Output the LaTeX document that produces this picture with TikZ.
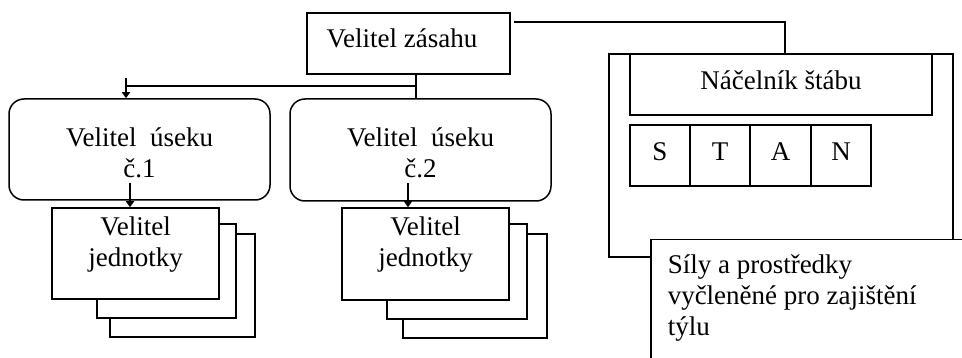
\documentclass[tikz,border=0pt]{standalone}
\usepackage{fontspec}
\setmainfont{Liberation Serif}
\usetikzlibrary{arrows.meta}
\begin{document}
\begin{tikzpicture}[x=1pt,y=-1pt,line width=1.5pt,
  box/.style={draw,fill=white,inner sep=0pt},
  txt/.style={inner sep=0pt,align=center,font=\fontsize{27}{31}\selectfont},
  tip/.style={-{Triangle[length=6pt,width=8pt]}}]
\useasboundingbox (0,0) rectangle (962,358);
\clip (0,0) rectangle (962,358);

% top
\node[box,minimum width=203pt,minimum height=61pt] (zasahu) at (408.5,43.5) {};
\node[txt] (zasahut) at (402,38) {Velitel zásahu};

% sectors
\node[box,rounded corners=15pt,minimum width=261pt,minimum height=101pt] (useku1) at (139.5,149.5) {};
\node[txt] (useku1t) at (139.5,153) {Velitel\ \ úseku\\č.1};
\node[box,rounded corners=15pt,minimum width=261pt,minimum height=102pt] (useku2) at (420.5,150) {};
\node[txt] (useku2t) at (420.5,153) {Velitel\ \ úseku\\č.2};

% units 1
\node[box,minimum width=145pt,minimum height=103pt] (j1c) at (182.5,285.5) {};
\node[box,minimum width=139pt,minimum height=94pt] (j1b) at (166.5,271) {};
\node[box,minimum width=167pt,minimum height=91pt] (j1a) at (135.5,253.5) {};
\node[txt] (j1t) at (135.5,245) {Velitel\\jednotky};

% units 2
\node[box,minimum width=144pt,minimum height=104pt] (j2c) at (475,286) {};
\node[box,minimum width=140pt,minimum height=95pt] (j2b) at (457,271.5) {};
\node[box,minimum width=167pt,minimum height=92pt] (j2a) at (425.5,254) {};
\node[txt] (j2t) at (425.5,245) {Velitel\\jednotky};

% staff
\node[box,minimum width=344pt,minimum height=203pt] (stab) at (781,155.5) {};
\node[box,minimum width=302pt,minimum height=61pt] (nacelnik) at (781,84.5) {};
\node[txt] (nacelnikt) at (781,80) {Náčelník štábu};
\foreach \x/\l in {660/S,720/T,780.5/A,841/N}
  \node[box,minimum width=60pt,minimum height=61pt] (c\l) at (\x,155.5) {};
\foreach \x/\l in {660/S,720/T,780.5/A,841/N}
  \node[txt] (t\l) at (\x,151.5) {\l};

% rear
\node[box,minimum width=360pt,minimum height=160pt,anchor=north west] (tyl) at (650,239) {};
\node[txt,align=left,anchor=west] (tylt) at (667,298) {Síly a prostředky\\vyčleněné pro zajištění\\týlu};

% links
\coordinate (zr) at (514,22);
\path[draw] (zr) -| ([xshift=4pt]stab.north);
\path[draw] ([xshift=7.5pt]zasahu.south) -- ([xshift=7.5pt]zasahu.south |- useku2.north);
\coordinate (split) at ([xshift=7.5pt,yshift=12pt]zasahu.south |- useku2.north);
\coordinate (stub) at (126,78);
\path[draw] (split) -- (split -| stub);
\path[draw,tip] (stub) -- (stub |- useku1.north);
\coordinate (a1) at (130,183);
\path[draw,tip] (a1) -- (a1 |- j1a.north);
\coordinate (a2) at (408,183);
\path[draw,tip] (a2) -- (a2 |- j2a.north);
\end{tikzpicture}
\end{document}
